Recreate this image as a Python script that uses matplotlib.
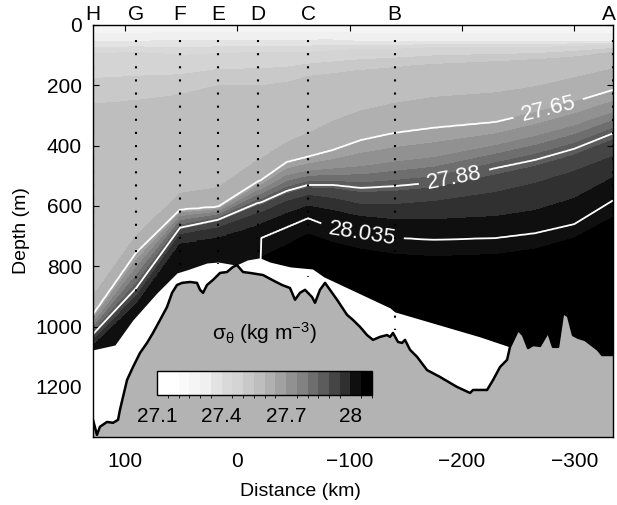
import numpy as np
import matplotlib
matplotlib.use('Agg')
import matplotlib.pyplot as plt
from matplotlib.colors import ListedColormap, BoundaryNorm
import matplotlib.cm as cm

plt.rcParams['font.family'] = ['Liberation Sans', 'DejaVu Sans']
plt.rcParams['mathtext.fontset'] = 'custom'
plt.rcParams['mathtext.rm'] = 'Liberation Sans'
plt.rcParams['mathtext.it'] = 'Liberation Sans:italic'

# stations along the section
stations = ['H', 'G', 'F', 'E', 'D', 'C', 'B', 'A']
station_km = [128.5, 90, 51, 17, -18, -63, -140, -334.5]
station_bottom = [1075, 890, 820, 792, 790, 835, 1010, 1090]

# isopycnal depths (m) at each profile position (km)
col_km = [128.5, 90, 51, 17, -18, -21, -44, -63, -85, -110, -140, -175, -230, -265, -300, -335]
sig_levels = [27.25, 27.35, 27.45, 27.55, 27.6, 27.65, 27.75, 27.88, 27.95, 28.0, 28.035, 28.08]
z_2725 = [0] * 16
z_2735 = [55, 55, 50, 50, 50, 50, 50, 50, 50, 55, 55, 55, 55, 55, 55, 55]
z_2745 = [95, 90, 100, 95, 90, 90, 90, 90, 85, 80, 80, 75, 75, 75, 70, 65]
z_2755 = [260, 250, 230, 200, 200, 200, 190, 170, 160, 150, 140, 130, 120, 115, 105, 90]
z_2760 = [900, 700, 560, 540, 450, 445, 390, 360, 320, 285, 260, 240, 225, 205, 175, 145]
z_2765 = [960, 755, 613, 603, 520, 515, 455, 437, 415, 382, 358, 341, 322, 291, 255, 215]
z_2775 = [990, 805, 635, 620, 550, 548, 500, 485, 478, 470, 455, 440, 400, 370, 335, 290]
z_2788 = [1025, 872, 672, 645, 590, 588, 550, 530, 530, 540, 534, 522, 474, 447, 410, 358]
z_2795 = [1045, 900, 695, 672, 625, 623, 585, 565, 575, 595, 595, 585, 555, 525, 485, 435]
z_2800 = [1062, 925, 725, 705, 665, 660, 625, 600, 615, 635, 645, 645, 635, 615, 575, 505]
z_28035 = [1450, 1450, 1450, 1450, 1450, 706, 670, 640, 672, 690, 705, 712, 706, 690, 660, 580]
z_2808 = [1500, 1500, 1500, 1500, 1500, 900, 850, 800, 820, 850, 870, 880, 870, 850, 800, 750]

# deepest data (top of the white, unsampled region)
mask_km = [128.5, 109, 93, 71.5, 53.7, 45, 27, 17, 1, -9, -20, -29, -47, -67, -77,
           -136, -140, -216, -245.5, -250, -335]
mask_z = [1077, 1061, 978, 888, 822, 812, 789, 786, 796, 779, 772, 786, 802, 809, 835,
          938, 951, 1034, 1071, 1400, 1400]

# bottom topography
bathy_km = [128.5, 125, 122.3, 116, 110.7, 106.2, 104.5, 98.2, 92.9, 86.6, 80.4, 75.1, 68.8,
            62.6, 58.1, 53.7, 49.2, 42.1, 35.9, 33.2, 30.5, 27.0, 21.6, 15.4, 9.2, 3.8, 0.3,
            -5.1, -11.3, -22.9, -30.9, -39.8, -46.9, -51.4, -55.8, -60.3, -66.5, -69.2,
            -73.6, -78.1, -82.5, -88.8, -97.7, -103.0, -109.3, -115.5, -120.8, -127.1,
            -133.3, -136.0, -138.6, -143.1, -146.7, -149.3, -153.8, -160.0, -168.9, -180.5,
            -195.6, -207.2, -209.9, -222.4, -227.7, -233.9, -240.2, -242.8, -250.0, -254.4,
            -258.9, -263.3, -269.5, -276.7, -281.1, -285.6, -290.0, -294.5, -298.9, -303.4,
            -309.6, -321.2, -324.8, -335]
bathy_z = [1309, 1359, 1332, 1316, 1319, 1309, 1276, 1177, 1134, 1087, 1054, 1021, 978,
           935, 888, 862, 855, 852, 855, 878, 888, 862, 845, 822, 819, 802, 796,
           819, 822, 829, 845, 862, 872, 911, 888, 878, 902, 921,
           878, 855, 878, 911, 961, 978, 1001, 1028, 1044, 1034,
           1028, 1034, 1021, 1051, 1054, 1044, 1077, 1100, 1144, 1167,
           1200, 1220, 1210, 1210, 1177, 1134, 1110, 1067, 1011, 1028,
           1071, 1061, 1064, 1018, 1067, 1067, 955, 965, 1028, 1037,
           1044, 1077, 1094, 1094]

# colour blocks
cb_levels = np.round(np.arange(27.1, 28.1001, 0.05), 3)
cb_grays = [1.0, 1.0, 0.98, 0.96, 0.94, 0.89, 0.85, 0.83, 0.79, 0.745,
            0.69, 0.63, 0.57, 0.51, 0.43, 0.36, 0.27, 0.19, 0.06, 0.0]

# grid: isopycnals interpolated along the section, then sigma down each column
table = np.array([z_2725, z_2735, z_2745, z_2755, z_2760, z_2765, z_2775,
                  z_2788, z_2795, z_2800, z_28035, z_2808], dtype=float)
xa = np.array(col_km)[::-1]
xf = np.linspace(xa[0], xa[-1], 700)
zf = np.array([np.interp(xf, xa, row[::-1]) for row in table])
zg = np.arange(0, 1501, 4.0)
S = np.array([np.interp(zg, zf[:, j], sig_levels) for j in range(len(xf))]).T

cmap = ListedColormap([(g, g, g) for g in cb_grays])
norm = BoundaryNorm(cb_levels, cmap.N)

fig = plt.figure(figsize=(6.17, 5.05), dpi=100)
ax = fig.add_axes([93 / 617, 1 - 437 / 505, 520 / 617, 412 / 505])

ax.contourf(xf, zg, S, levels=cb_levels, cmap=cmap, norm=norm, zorder=1)
cs = ax.contour(xf, zg, S, levels=[27.65, 27.88, 28.035], colors='white',
                linewidths=1.3, zorder=2)
ax.clabel(cs, inline=True, inline_spacing=8, fontsize=16,
          fmt={27.65: '27.65', 27.88: '27.88', 28.035: '28.035'},
          manual=[(-277, 280), (-193, 505), (-111, 695)])

ax.fill_between(mask_km, mask_z, 1400, color='white', lw=0, zorder=3)
ax.fill_between(bathy_km, bathy_z, 1400, color='#b3b3b3', lw=0, zorder=4)
ax.plot(bathy_km, bathy_z, color='black', lw=1.8, zorder=5)

for s, d, zb in zip(stations, station_km, station_bottom):
    ax.plot([d, d], [50, zb], color='black', lw=1.5, ls=(0, (1, 5.3)),
            dash_capstyle='butt', zorder=6)
    if s == 'A':
        fig.text(616 / 617, 1 - 20 / 505, s, ha='right', va='baseline', fontsize=15)
    else:
        ax.text(d, 1.012, s, transform=ax.get_xaxis_transform(), ha='center',
                va='baseline', fontsize=15)

ax.set_xlim(128.5, -334.5)
ax.set_ylim(1366, 0)
ax.set_xticks([100, 0, -100, -200, -300])
ax.set_yticks(range(0, 1201, 200))
ax.tick_params(direction='in', top=True, right=True, length=4, labelsize=15)
ax.tick_params(axis='x', pad=11)
ax.tick_params(axis='y', pad=8)
for sp in ax.spines.values():
    sp.set_linewidth(1.0)
    sp.set_zorder(7)

fig.text(300 / 617, 1 - 492 / 505, 'Distance (km)', ha='center', va='center', fontsize=14)
fig.text(22 / 617, 1 - 231 / 505, 'Depth (m)', ha='center', va='center',
         rotation=90, fontsize=14)

# colour bar inset
cax = fig.add_axes([157 / 617, 1 - 395 / 505, 215 / 617, 24 / 505])
cb = fig.colorbar(cm.ScalarMappable(norm=norm, cmap=cmap), cax=cax,
                  orientation='horizontal', ticks=[27.1, 27.4, 27.7, 28.0])
cb.set_ticklabels(['27.1', '27.4', '27.7', '28'])
cax.tick_params(length=0, labelsize=15, pad=9)
cb.outline.set_linewidth(1.0)
fig.text(264 / 617, 1 - 333 / 505, r'$\mathregular{\sigma_\theta}$ (kg m$^{\mathregular{-3}}$)',
         ha='center', va='center', fontsize=15)

fig.savefig('out.png', dpi=100)
